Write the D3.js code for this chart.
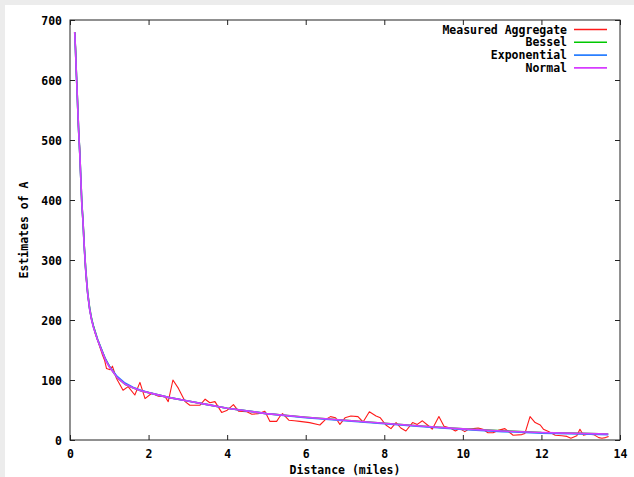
<!DOCTYPE html>
<html>
<head>
<meta charset="utf-8">
<script src="https://cdn.jsdelivr.net/npm/d3@7"></script>
<style>
  html, body { margin: 0; padding: 0; background: #ececec; }
  svg { display: block; }
  text { font-family: "DejaVu Sans Mono", "Liberation Mono", monospace; font-weight: bold; font-size: 11.5px; fill: #000; }
</style>
</head>
<body>
<svg id="chart" width="634" height="477"></svg>
<script>
// ---------- data ----------
const xTicks = [0, 2, 4, 6, 8, 10, 12, 14];
const yTicks = [0, 100, 200, 300, 400, 500, 600, 700];
const xLabel = "Distance (miles)";
const yLabel = "Estimates of A";
const seriesNames = ["Measured Aggregate", "Bessel", "Exponential", "Normal"];
const seriesColors = ["#ff1a1a", "#00c800", "#2a7fff", "#d63cff"];

// Measured aggregate (distance in miles, estimate)
const measuredDist = [0.12,0.14,0.16,0.19,0.21,0.25,0.27,0.30,0.32,0.35,0.38,0.42,0.47,0.51,0.55,0.60,0.64,0.70,0.76,0.82,0.88,
  0.93,1.02,1.08,1.18,1.35,1.48,1.65,1.78,1.91,2.08,2.25,2.42,2.50,2.62,2.76,2.93,3.05,3.31,3.44,3.56,3.69,3.86,3.99,4.16,4.29,
  4.50,4.63,4.80,4.96,5.09,5.26,5.35,5.41,5.57,5.71,5.85,6.10,6.36,6.50,6.63,6.76,6.87,7.00,7.15,7.33,7.46,7.62,7.79,7.90,8.04,
  8.17,8.30,8.42,8.55,8.72,8.84,8.97,9.10,9.22,9.39,9.52,9.68,9.81,9.92,10.05,10.14,10.27,10.39,10.51,10.64,10.77,10.90,11.07,
  11.20,11.28,11.50,11.58,11.71,11.84,11.97,12.05,12.18,12.35,12.52,12.65,12.75,12.90,12.98,13.07,13.20,13.33,13.46,13.54,13.63,13.71];
const measuredVal = [680,657,614,570,527,483,440,397,375,345,300,262,232,213,200,188,178,167,155,143,133,
  119,117,123,103,83,89,75,96,69,78,73,72,64,100,86,64,58,58,68,62,64,46,49,59,48,
  47,43,44,48,31,31,40,44,33,32,31,29,25,34,39,37,26,37,40,39,30,47,40,37,25,
  19,29,20,15,29,26,32,25,18,39,23,20,15,19,14,18,19,20,18,12,12,16,19,
  12,8,9,11,39,29,25,18,14,8,7,6,3,7,18,8,10,9,4,3,4,6];

// Fitted models, sampled at these distances
const fitDist = [0.12,0.14,0.16,0.18,0.20,0.22,0.25,0.28,0.30,0.33,0.36,0.40,0.45,0.50,0.55,0.60,0.70,0.80,0.90,1.00,
  1.20,1.40,1.60,1.80,2.00,2.50,3.00,3.50,4.00,5.00,6.00,7.00,8.00,9.00,10.00,11.00,12.00,13.00,13.70];
const besselVal = [680,651,615,583,549,516,477,429,396,366,326,285,246,220,202,189,168,151,135,123,
  104,93,87,82,79,71,65,59,53,44,38,33,28,23,18.5,15.5,12.5,11,10];
const exponentialVal = [679,650,614,582,548,515,476,428,395,365,325,283,244,218,201,188,168,151,135,123,
  106,95,88,83,79,71,65,59,53,44,37,32,27,22,17.5,14,11.5,10,9];
const normalVal = [680,650,614,582,548,515,476,428,395,365,325,283,244,218,200,187,167,150,134,122,
  104,93,87,82,79,71,65,59,53,44,38,33,28,23,18.5,15,12.5,11,10];

// ---------- chart ----------
const W = 634, H = 477;
const svg = d3.select("#chart");
svg.append("rect").attr("x", 5).attr("y", 5).attr("width", W - 5).attr("height", H - 5).attr("fill", "#ffffff");

const mLeft = 70, mRight = 620, mTop = 20, mBottom = 440;
const x = d3.scaleLinear().domain([0, 14]).range([mLeft, mRight]);
const y = d3.scaleLinear().domain([0, 700]).range([mBottom, mTop]);

const tickLen = 5;
const axisColor = "#222";

// Axes (ticks inward on all sides)
const gx = svg.append("g").attr("transform", `translate(0,${mBottom})`)
  .call(d3.axisBottom(x).tickValues(xTicks).tickSizeInner(-tickLen).tickSizeOuter(0).tickPadding(0).tickFormat(d3.format("d")));
gx.select(".domain").remove();
gx.selectAll("line").attr("stroke", axisColor);
gx.selectAll("text").attr("y", 14).attr("dy", "0.35em").attr("font-family", null).attr("font-size", null);

const gxt = svg.append("g").attr("transform", `translate(0,${mTop})`)
  .call(d3.axisTop(x).tickValues(xTicks).tickSizeInner(-tickLen).tickSizeOuter(0).tickFormat(""));
gxt.select(".domain").remove();
gxt.selectAll("line").attr("stroke", axisColor);

const gy = svg.append("g").attr("transform", `translate(${mLeft},0)`)
  .call(d3.axisLeft(y).tickValues(yTicks).tickSizeInner(-tickLen).tickSizeOuter(0).tickPadding(0).tickFormat(d3.format("d")));
gy.select(".domain").remove();
gy.selectAll("line").attr("stroke", axisColor);
gy.selectAll("text").attr("x", -8).attr("dy", "0.35em").attr("font-family", null).attr("font-size", null);

const gyr = svg.append("g").attr("transform", `translate(${mRight},0)`)
  .call(d3.axisRight(y).tickValues(yTicks).tickSizeInner(-tickLen).tickSizeOuter(0).tickFormat(""));
gyr.select(".domain").remove();
gyr.selectAll("line").attr("stroke", axisColor);

// Series
svg.append("clipPath").attr("id", "clip").append("rect")
  .attr("x", mLeft).attr("y", mTop).attr("width", mRight - mLeft).attr("height", mBottom - mTop);
const plot = svg.append("g").attr("clip-path", "url(#clip)");

const line = d3.line().x(d => x(d[0])).y(d => y(d[1]));
const series = [
  { pts: d3.zip(measuredDist, measuredVal), w: 1.1 },
  { pts: d3.zip(fitDist, besselVal), w: 1.6 },
  { pts: d3.zip(fitDist, exponentialVal), w: 1.6 },
  { pts: d3.zip(fitDist, normalVal), w: 1.6 }
];
series.forEach((s, i) => {
  plot.append("path").attr("d", line(s.pts)).attr("fill", "none")
    .attr("stroke", seriesColors[i]).attr("stroke-width", s.w).attr("stroke-linejoin", "round");
});

// Border box
svg.append("rect").attr("x", mLeft).attr("y", mTop).attr("width", mRight - mLeft).attr("height", mBottom - mTop)
  .attr("fill", "none").attr("stroke", axisColor).attr("stroke-width", 1);

// Legend
const lg = svg.append("g");
seriesNames.forEach((name, i) => {
  const ly = 29.5 + i * 12.8;
  lg.append("text").attr("x", 567).attr("y", ly).attr("dy", "0.35em").attr("text-anchor", "end").text(name);
  lg.append("line").attr("x1", 574).attr("x2", 607).attr("y1", ly).attr("y2", ly)
    .attr("stroke", seriesColors[i]).attr("stroke-width", 1.6);
});

// Axis titles
svg.append("text").attr("x", (mLeft + mRight) / 2).attr("y", 470).attr("dy", "0.35em")
  .attr("text-anchor", "middle").text(xLabel);
svg.append("text").attr("transform", `translate(24,${(mTop + mBottom) / 2}) rotate(-90)`)
  .attr("dy", "0.35em").attr("text-anchor", "middle").text(yLabel);
</script>
</body>
</html>
